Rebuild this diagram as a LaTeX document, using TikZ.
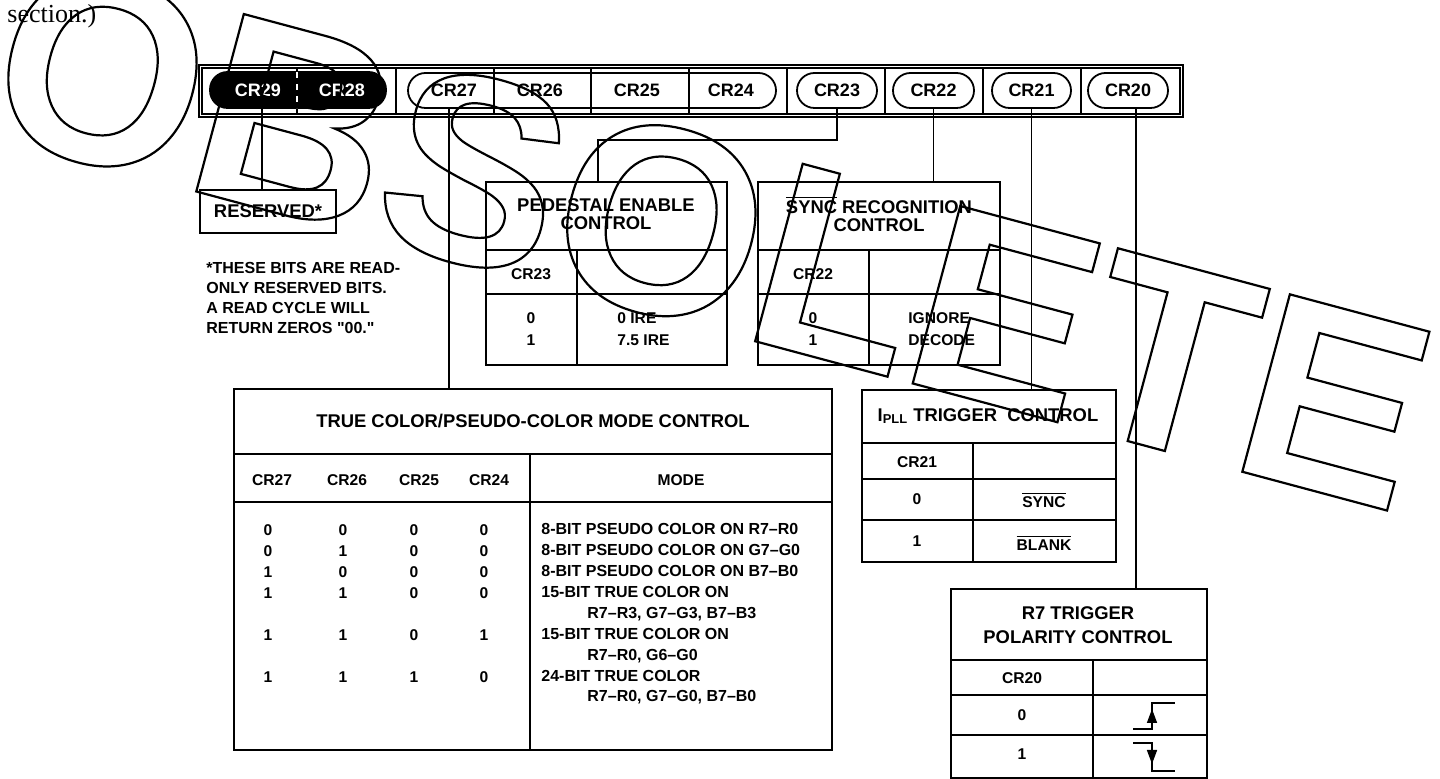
\documentclass[tikz,border=0pt]{standalone}
\usepackage{fontspec}
\setmainfont{Liberation Serif}
\setsansfont{Liberation Sans}[Ligatures=TeXOff]
\newfontfamily\wmfamily{Liberation Sans}
\usepackage{tikz}
\usetikzlibrary{positioning, fit, arrows.meta}
\newcommand{\ttlfont}{\sffamily\bfseries\fontsize{9.2}{9}\selectfont}
\newcommand{\cellfont}{\sffamily\bfseries\fontsize{7.8}{11}\selectfont}
\newcommand{\barfont}{\sffamily\bfseries\fontsize{9}{10}\selectfont}
\newcommand{\outlinetext}[1]{\special{pdf:literal direct 1 Tr 1.1 w}#1\special{pdf:literal direct 0 Tr}}
\newcommand{\ovl}[1]{$\overline{\mbox{#1}}$}

\begin{document}
\begin{tikzpicture}[x=0.5pt, y=-0.5pt,
    box/.style={draw, line width=1.3pt, inner sep=0pt},
    rule/.style={line width=1.3pt},
    lead/.style={line width=0.6pt},
    pill/.style={draw, line width=0.9pt, rounded corners=8.75pt, inner sep=0pt},
    ttl/.style={font=\ttlfont, align=center, inner sep=0pt},
    cell/.style={font=\cellfont, inner sep=0pt},
    barlbl/.style={font=\barfont, inner sep=0pt},
    edge/.style={line width=0.8pt}
  ]
  \useasboundingbox (0,0) rectangle (1440,779);

  \node[anchor=base west, inner sep=0pt, font=\fontsize{13}{15}\selectfont] (sect) at (7,23) {section.)};

  % register bar
  \draw[rule] (199,65) rectangle (1183,117);
  \draw[lead] (202,68) rectangle (1180,114);
  \foreach \x in {297,396,494,591,689,787,885,983,1081}
    \draw[line width=1pt] (\x,68) -- (\x,114);

  \node[pill, fill=black, fit={(210,72) (386,108)}] (p2928) {};
  \draw[white, dashed, line width=0.8pt] (297,72) -- (297,108);
  \node[barlbl, text=white] (l29) at (258,90) {CR29};
  \node[barlbl, text=white] (l28) at (342,90) {CR28};

  \node[pill, fit={(408,73) (776,108)}] (p2724) {};
  \node[barlbl] (l27) at (454,90) {CR27};
  \node[barlbl] (l26) at (540,90) {CR26};
  \node[barlbl] (l25) at (637,90) {CR25};
  \node[barlbl] (l24) at (731,90) {CR24};

  \node[pill, fit={(797,73) (877,108)}] (p23) {};
  \node[pill, fit={(893,73) (974,108)}] (p22) {};
  \node[pill, fit={(992,73) (1071,108)}] (p21) {};
  \node[pill, fit={(1088,73) (1168,108)}] (p20) {};
  \node[barlbl] (l23) at (p23) {CR23};
  \node[barlbl] (l22) at (p22) {CR22};
  \node[barlbl] (l21) at (p21) {CR21};
  \node[barlbl] (l20) at (p20) {CR20};

  % reserved bits
  \node[box, fit={(200,190) (336,233)}] (rsv) {};
  \node[font=\ttlfont, inner sep=0pt] (rsvt) at (rsv) {RESERVED*};
  \node[font=\sffamily\bfseries\fontsize{8}{10}\selectfont, align=left, anchor=west, inner sep=0pt] (note) at (206,298)
    {*THESE BITS ARE READ-\\ONLY RESERVED BITS.\\A READ CYCLE WILL\\RETURN ZEROS "00."};

  % pedestal
  \node[box, fit={(486,182) (727,365)}] (ped) {};
  \draw[rule] (486,250) -- (727,250) (486,294) -- (727,294) (577,250) -- (577,365);
  \node[ttl] (pedt) at (606,214) {PEDESTAL ENABLE\\CONTROL};
  \node[cell] (pedh) at (531,274) {CR23};
  \node[cell, align=center] (pedb) at (531,329) {0\\1};
  \node[cell, align=left, anchor=west] (pedv) at (617,329) {0 IRE\\7.5 IRE};

  % sync
  \node[box, fit={(758,182) (1000,365)}] (sync) {};
  \draw[rule] (758,250) -- (1000,250) (758,294) -- (1000,294) (869,250) -- (869,365);
  \node[ttl] (synct) at (879,214) {\ovl{SYNC} RECOGNITION\\CONTROL};
  \node[cell] (synch) at (813,274) {CR22};
  \node[cell, align=center] (syncb) at (813,329) {0\\1};
  \node[cell, align=left, anchor=west] (syncv) at (908,329) {IGNORE\\DECODE};

  % true color / pseudo color
  \node[box, fit={(234,389) (832,750)}] (tc) {};
  \draw[rule] (234,454) -- (832,454) (234,502) -- (832,502) (530,454) -- (530,750);
  \node[ttl] (tct) at (533,421) {TRUE COLOR/PSEUDO-COLOR MODE CONTROL};
  \foreach \x/\t in {272/CR27, 347/CR26, 419/CR25, 489/CR24}
    \node[cell] (h\t) at (\x,480) {\t};
  \node[cell] (hmode) at (681,480) {MODE};
  \foreach \y/\a/\b/\c/\d [count=\i] in {530/0/0/0/0, 551/0/1/0/0, 572/1/0/0/0, 593/1/1/0/0, 635/1/1/0/1, 677/1/1/1/0} {
    \node[cell] (b\i-7) at (268,\y) {\a};
    \node[cell] (b\i-6) at (343,\y) {\b};
    \node[cell] (b\i-5) at (414,\y) {\c};
    \node[cell] (b\i-4) at (484,\y) {\d};
  }
  \node[font=\sffamily\bfseries\fontsize{8}{10.45}\selectfont, align=left, anchor=west, inner sep=0pt] (modes) at (541,614)
    {8-BIT PSEUDO COLOR ON R7–R0\\
     8-BIT PSEUDO COLOR ON G7–G0\\
     8-BIT PSEUDO COLOR ON B7–B0\\
     15-BIT TRUE COLOR ON\\
     \hspace*{23pt}R7–R3, G7–G3, B7–B3\\
     15-BIT TRUE COLOR ON\\
     \hspace*{23pt}R7–R0, G6–G0\\
     24-BIT TRUE COLOR\\
     \hspace*{23pt}R7–R0, G7–G0, B7–B0};

  % ipll trigger
  \node[box, fit={(862,390) (1116,562)}] (ipll) {};
  \draw[rule] (862,443) -- (1116,443) (862,479) -- (1116,479) (862,520) -- (1116,520) (973,443) -- (973,562);
  \node[ttl] (ipllt) at (988,416) {I\textsubscript{PLL} TRIGGER\ \ CONTROL};
  \node[cell] (ipllh) at (917,462) {CR21};
  \node[cell] (ipll0) at (917,499) {0};
  \node[cell] (ipll1) at (917,541) {1};
  \node[cell] (ipllv0) at (1044,500) {\ovl{SYNC}};
  \node[cell] (ipllv1) at (1044,543) {\ovl{BLANK}};

  % r7 trigger polarity
  \node[box, fit={(951,589) (1207,778)}] (r7) {};
  \draw[rule] (951,660) -- (1207,660) (951,695) -- (1207,695) (951,735) -- (1207,735) (1093,660) -- (1093,778);
  \node[ttl] (r7t) at (1078,625) {R7 TRIGGER\\[3pt]POLARITY CONTROL};
  \node[cell] (r7h) at (1022,678) {CR20};
  \node[cell] (r70) at (1022,715) {0};
  \node[cell] (r71) at (1022,754) {1};
  \draw[edge] (1133,729) -- (1152,729) -- (1152,703) -- (1175,703);
  \draw[-{Triangle[width=5pt,length=7pt]}, edge] (1152,729) -- (1152,709);
  \draw[edge] (1133,743) -- (1152,743) -- (1152,771) -- (1175,771);
  \draw[-{Triangle[width=5pt,length=7pt]}, edge] (1152,743) -- (1152,764);

  % leaders
  \coordinate (k2928) at (262,108);
  \draw[lead] (k2928) -- (k2928 |- rsv.north);
  \coordinate (k2724) at (449,108);
  \draw[lead] (k2724) -- (k2724 |- tc.north);
  \coordinate (k23) at (598,140);
  \draw[lead] (p23.south) |- (k23) -- (k23 |- ped.north);
  \draw[lead] (p22.south) -- (p22.south |- sync.north);
  \draw[lead] (p21.south) -- (p21.south |- ipll.north);
  \coordinate (k20) at (1136,108);
  \draw[lead] (k20) -- (k20 |- r7.north);

  % watermark
  \node[rotate=-15, anchor=base west, inner sep=0pt, font=\wmfamily\bfseries\fontsize{133.5}{134}\selectfont] (wm) at (-22,133)
    {\outlinetext{OBSOLETE}};
\end{tikzpicture}
\end{document}
